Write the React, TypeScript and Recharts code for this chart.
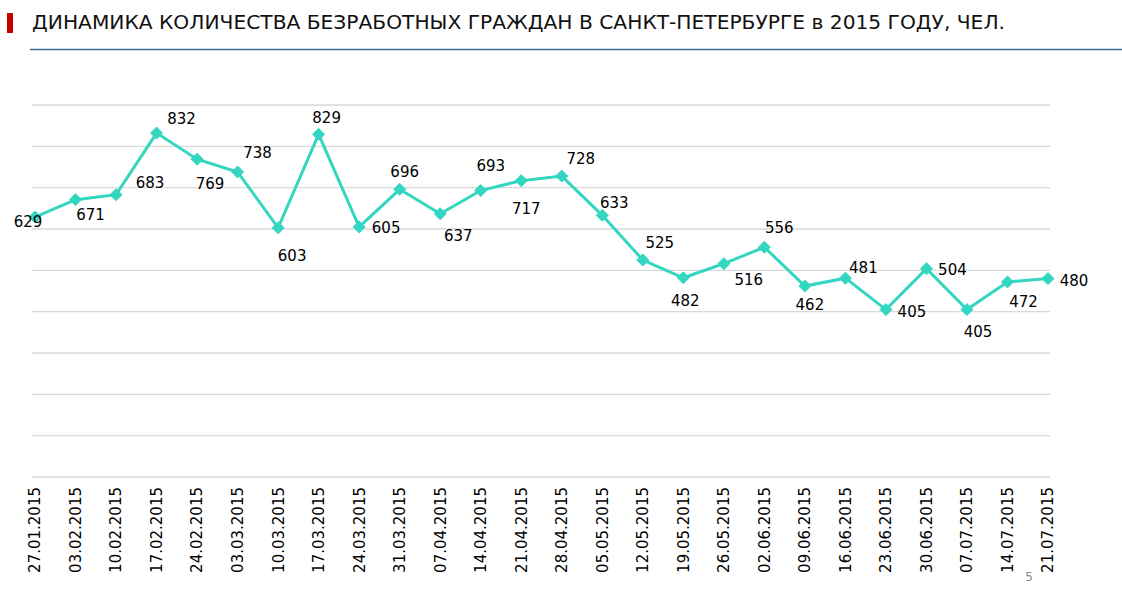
import React from "react";
import { LineChart, Line, XAxis, YAxis, CartesianGrid } from "recharts";

const dates = [
  "27.01.2015", "03.02.2015", "10.02.2015", "17.02.2015", "24.02.2015", "03.03.2015",
  "10.03.2015", "17.03.2015", "24.03.2015", "31.03.2015", "07.04.2015", "14.04.2015",
  "21.04.2015", "28.04.2015", "05.05.2015", "12.05.2015", "19.05.2015", "26.05.2015",
  "02.06.2015", "09.06.2015", "16.06.2015", "23.06.2015", "30.06.2015", "07.07.2015",
  "14.07.2015", "21.07.2015",
];

const unemployed = [
  629, 671, 683, 832, 769, 738, 603, 829, 605, 696, 637, 693, 717, 728, 633, 525, 482,
  516, 556, 462, 481, 405, 504, 405, 472, 480,
];

const yTicks = [0, 100, 200, 300, 400, 500, 600, 700, 800, 900];

const titleText = "ДИНАМИКА КОЛИЧЕСТВА БЕЗРАБОТНЫХ ГРАЖДАН В САНКТ-ПЕТЕРБУРГЕ в 2015 ГОДУ, ЧЕЛ.";
const pageNumber = "5";

// label placement relative to each point (dx, dy of label centre)
const labelDx = [-7, 15, 34, 25, 13, 20, 14, 8, 27, 5, 18, 10, 5, 19, 12, 17, 2, 25, 15, 5, 18, 26, 26, 11, 16, 26];
const labelDy = [4, 15, -12, -15, 24, -19, 28, -17, 1, -18, 22, -25, 28, -18, -13, -18, 23, 16, -20, 18, -11, 2, 1, 22, 20, 2];

const data = dates.map((d, i) => ({ date: d, value: unemployed[i] }));

const FONT = "'DejaVu Sans', Verdana, sans-serif";
const LINE_COLOR = "#33d6c0";

const Diamond = (props: any) => {
  const { cx, cy } = props;
  if (cx == null || cy == null) return null;
  const h = 6;
  return (
    <polygon
      points={`${cx},${cy - h} ${cx + h},${cy} ${cx},${cy + h} ${cx - h},${cy}`}
      fill={LINE_COLOR}
      stroke={LINE_COLOR}
      strokeWidth={1}
    />
  );
};

const PointLabel = (props: any) => {
  const { x, y, index, value } = props;
  if (x == null || y == null) return null;
  const dx = labelDx[index] ?? 0;
  const dy = labelDy[index] ?? 0;
  return (
    <text
      x={x + dx}
      y={y + dy + 5.5}
      textAnchor="middle"
      fontFamily={FONT}
      fontSize={15}
      fill="#000"
    >
      {value}
    </text>
  );
};

const DateTick = (props: any) => {
  const { x, y, payload } = props;
  const ty = 487;
  return (
    <text
      x={x}
      y={ty}
      dy="0.36em"
      transform={`rotate(-90, ${x}, ${ty})`}
      textAnchor="end"
      fontFamily={FONT}
      fontSize={15}
      fill="#000"
    >
      {payload.value}
    </text>
  );
};

export default function App() {
  return (
    <div style={{ position: "absolute", left: 0, top: 0, width: 1122, height: 599, background: "#fff" }}>
      <svg width={1122} height={599} style={{ position: "absolute", left: 0, top: 0 }}>
        <rect x={7} y={13} width={6} height={20} fill="#c80000" />
        <text
          x={32}
          y={29}
          fontFamily={FONT}
          fontSize={19.5}
          fill="#111"
          textLength={973}
          lengthAdjust="spacingAndGlyphs"
        >
          {titleText}
        </text>
        <line x1={30} y1={49.5} x2={1122} y2={49.5} stroke="#3d6b8c" strokeWidth={1.3} />
        <text x={1029} y={581} textAnchor="middle" fontFamily={FONT} fontSize={12} fill="#888">
          {pageNumber}
        </text>
      </svg>
      <div style={{ position: "absolute", left: 0, top: 0 }}>
        <LineChart
          width={1122}
          height={599}
          data={data}
          margin={{ top: 105, right: 72, bottom: 0, left: 32 }}
        >
          <CartesianGrid vertical={false} stroke="#d9d9d9" strokeWidth={1.3} />
          <XAxis
            dataKey="date"
            type="category"
            interval={0}
            axisLine={false}
            tickLine={false}
            height={122}
            padding={{ left: 3, right: 2 }}
            tick={<DateTick />}
          />
          <YAxis hide domain={[0, 900]} ticks={yTicks} width={0} />
          <Line
            type="linear"
            dataKey="value"
            stroke={LINE_COLOR}
            strokeWidth={3}
            dot={<Diamond />}
            activeDot={false}
            label={<PointLabel />}
            isAnimationActive={false}
          />
        </LineChart>
      </div>
    </div>
  );
}
